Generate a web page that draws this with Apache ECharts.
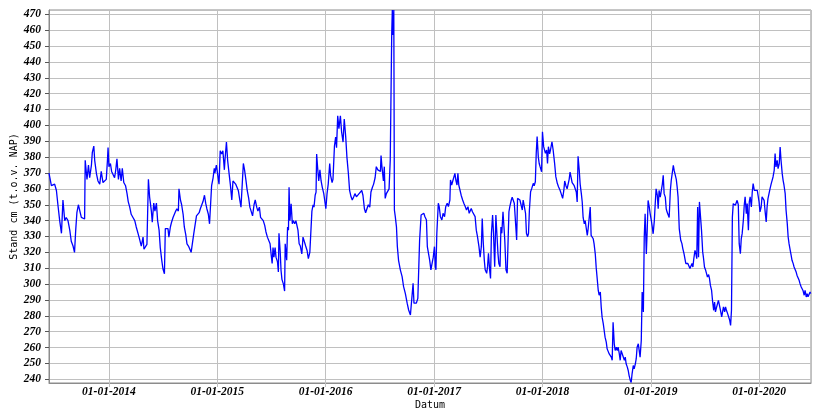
<!DOCTYPE html>
<html>
<head>
<meta charset="utf-8">
<script src="https://cdn.jsdelivr.net/npm/echarts@6/dist/echarts.min.js"></script>
<style>
html,body{margin:0;padding:0;background:#fff;}
#chart{width:825px;height:414px;}
</style>
</head>
<body>
<div id="chart"></div>
<script>
// Water level (Stand cm t.o.v. NAP) — dates (MM-DD) and values per year
const d2013 = ['06-13','06-21','06-26','07-02','07-08','07-13','07-19','07-25','07-30','08-05','08-10','08-16','08-22','08-27','09-02','09-07','09-11','09-15','09-20','09-24','09-30','10-06','10-11','10-13','10-19','10-24','10-28','11-03','11-06','11-11','11-14','11-20','11-25','12-01','12-06','12-12','12-18','12-23','12-27','12-29'];
const v2013 = [370,362,361,363,359,350,340,332,353,340,342,340,334,327,324,320,334,345,350,349,342,341,341,378,366,375,367,375,383,387,378,369.5,365,363,371,364,364,366,378,386];

const d2014 = ['01-01','01-06','01-10','01-15','01-20','01-24','01-28','02-02','02-06','02-11','02-15','02-20','02-26','03-03','03-07','03-12','03-17','03-23','03-29','04-03','04-09','04-14','04-20','04-26','04-29','05-05','05-09','05-14','05-18','05-24','05-27','06-01','06-05','06-10','06-14','06-19','06-23','06-28','07-02','07-07','07-10','07-15','07-19','07-22','07-27','07-31','08-05','08-09','08-14','08-18','08-23','08-25','08-30','09-03','09-08','09-12','09-17','09-21','09-26','09-30','10-05','10-09','10-14','10-18','10-23','10-27','11-01','11-05','11-10','11-14','11-19','11-23','11-27','12-02','12-06','12-11','12-13','12-18','12-22','12-24','12-29'];
const v2014 = [374,376,371,372,367,372,379,366,373,365,373,364,362,357,352,348.5,344,342,340,336,332,328.5,324,329.6,322,322,325,366,355,346,339,351,346,351,340,334,323,315,309.7,306.5,335,335,335,329.6,336,339,342,341,346,347.5,346,360,353,350,344,336,331,325.4,324,325,320,319,332,333,343,344,345,347.5,347,352,356,351,347.5,344,338,338,362,367,373,370,375];

const d2015 = ['01-04','01-07','01-11','01-16','01-20','01-25','01-27','02-01','02-05','02-10','02-14','02-19','02-23','02-28','03-04','03-09','03-13','03-18','03-22','03-27','03-30','04-03','04-08','04-12','04-17','04-21','04-26','04-30','05-05','05-09','05-14','05-18','05-23','05-27','06-01','06-05','06-10','06-14','06-19','06-23','06-28','07-02','07-05','07-08','07-11','07-15','07-18','07-23','07-26','07-28','08-01','08-04','08-07','08-12','08-16','08-18','08-23','08-26','08-29','08-31','09-03','09-07','09-11','09-14','09-19','09-23','09-27','09-30','10-04','10-08','10-13','10-17','10-22','10-26','10-31','11-04','11-09','11-13','11-16','11-20','11-23','11-27','11-30','12-02','12-05','12-09','12-13','12-17','12-21','12-26','12-29'];
const v2015 = [375,363,384,382,384,372,378,389.5,378,369.5,363,353,365,366,363,364,359,353,348.5,347.5,376,372,365,359,354,348.5,347.5,343,350,353,348.5,346,348.5,342,343,340,337,333,329.6,330.7,325.4,318,313,323,317,323,317,314,307.6,332,321,308.6,303,300,295.6,325.4,315,336,334,361,340,350.6,338,340,338,340,339,334,325.4,324,319,329.6,328.6,324,321,316,320,320,346,350,348.5,356,358,382,374,365,372,365,361,357,353];

const d2016 = ['01-02','01-06','01-10','01-15','01-18','01-23','01-26','01-31','02-04','02-07','02-11','02-15','02-20','02-24','02-29','03-04','03-09','03-13','03-18','03-22','03-27','03-31','04-05','04-09','04-14','04-18','04-23','04-27','05-02','05-06','05-11','05-15','05-20','05-24','05-29','06-02','06-07','06-11','06-16','06-20','06-25','06-29','07-04','07-06','07-09','07-14','07-17','07-20','07-24','07-28','08-02','08-06','08-11','08-13','08-15','08-18','08-20','08-23','08-27','08-30','09-03','09-09','09-15','09-20','09-26','10-02','10-07','10-13','10-17','10-22','10-25','10-29','11-02','11-07','11-10','11-13','11-18','11-22','11-27','12-01','12-06','12-09','12-12','12-17','12-21','12-25','12-29'];
const v2016 = [347.5,357,363,376,368.5,364,366,387,392.6,386,406,398,406,396,389.5,404,392.6,380,369.5,359,355,353,355,357,355,356,357,358,359,356,347.5,345,346,350,348.5,358,361,363,367,374,372,371,371,381,374,365,374,354,357,358,360,378,458,472.7,457,472.7,346.7,342.5,336,323.6,315,309,304.7,298.4,294,288,283.7,280.5,279.5,300.5,288,289,288,291,290,327.8,343.5,344.6,344.6,342.5,340.4,323.6,323.6,315,309,313,317];

const d2017 = ['01-02','01-05','01-07','01-10','01-15','01-18','01-22','01-27','01-31','02-05','02-09','02-14','02-18','02-23','02-25','03-01','03-04','03-08','03-12','03-15','03-19','03-22','03-25','03-29','04-02','04-07','04-11','04-16','04-20','04-25','04-29','05-02','05-06','05-10','05-15','05-19','05-23','05-27','06-01','06-05','06-09','06-12','06-15','06-19','06-22','06-27','06-30','07-03','07-07','07-10','07-13','07-17','07-20','07-24','07-28','07-31','08-04','08-07','08-11','08-14','08-17','08-21','08-24','08-27','08-31','09-04','09-08','09-10','09-13','09-18','09-21','09-24','09-28','10-01','10-06','10-09','10-12','10-17','10-20','10-25','10-28','11-02','11-05','11-08','11-12','11-15','11-18','11-22','11-26','12-01','12-04','12-08','12-11','12-14','12-18','12-21','12-24','12-29'];
const v2017 = [323.6,311,309,332,351,348.8,342.5,340.4,344.6,342.5,348.8,351,348.8,353,365.6,362.4,364.5,363.5,369.8,365.6,362.4,369.8,362.4,359.3,356,353,351,348.8,346.7,348.8,344.6,343.5,347.7,345.6,344.6,342.5,334,329.9,323.6,317,323.6,341.4,327.8,315,309,306.8,311,319.4,309,303.6,332,343.5,332,311,343.5,343.5,319.4,313,311,336,332,345.6,344.6,327.8,309,306.8,306.8,345.6,348.8,353,354.7,354,351,342.5,327.8,354,353,353,354,346.7,353,352,344.6,332,329.9,332,346.7,358.2,360.3,363.5,362,364.5,382.4,393,380,376,374,370.8];

const d2018 = ['01-01','01-05','01-08','01-11','01-15','01-18','01-21','01-25','01-28','02-02','02-06','02-11','02-15','02-20','02-24','03-01','03-05','03-10','03-14','03-17','03-21','03-25','03-29','04-01','04-04','04-08','04-11','04-15','04-18','04-21','04-25','04-28','05-01','05-05','05-08','05-12','05-15','05-18','05-22','05-25','05-28','06-01','06-04','06-08','06-11','06-14','06-18','06-21','06-24','06-28','07-01','07-05','07-08','07-11','07-15','07-18','07-21','07-25','07-28','07-31','08-04','08-07','08-11','08-14','08-17','08-21','08-24','08-27','08-31','09-03','09-07','09-10','09-13','09-17','09-20','09-23','09-27','09-30','10-04','10-07','10-10','10-14','10-17','10-20','10-24','10-27','10-30','11-03','11-06','11-10','11-13','11-16','11-20','11-23','11-26','11-30','12-03','12-07','12-10','12-13','12-17','12-20','12-23','12-27','12-30'];
const v2018 = [396,386.6,386,382.4,384.5,376,386.6,382,384.5,389.7,384.5,376,367.7,363.5,361.4,359.3,357,354,359,365,362,360,359,366,370.6,369.5,364,363,362,363,358,351.7,380.5,371.6,363,357,351.7,342,338,340,336,330.7,335,334,348.5,330.7,331.7,328.6,325.4,319,310.7,302.3,296,293,295,285.5,279.2,275,270.8,266.6,263.4,259.2,258.2,256,256,254,252,276,262.4,258.2,260.3,258.2,260.3,256,252,258.2,256,255,252,254,249.8,247.7,245.6,242.4,239.3,238,243.5,248.7,246.6,249.8,253,260.3,262.4,258.2,254,264.5,295,282.4,329.6,344.3,319,333.8,352.7,348.5,344.3];

const d2019 = ['01-03','01-06','01-09','01-13','01-16','01-19','01-23','01-26','01-29','02-02','02-05','02-09','02-12','02-15','02-19','02-22','02-25','03-01','03-04','03-08','03-11','03-14','03-18','03-21','03-24','03-28','03-31','04-03','04-07','04-09','04-12','04-16','04-19','04-23','04-26','04-29','05-03','05-06','05-09','05-13','05-16','05-20','05-23','05-26','05-30','06-02','06-05','06-08','06-11','06-14','06-18','06-21','06-25','06-28','07-01','07-05','07-08','07-11','07-15','07-18','07-21','07-25','07-28','08-01','08-04','08-07','08-11','08-14','08-17','08-21','08-24','08-28','08-31','09-03','09-07','09-10','09-13','09-17','09-20','09-24','09-27','09-30','10-03','10-06','10-09','10-13','10-16','10-19','10-23','10-26','10-30','11-02','11-05','11-09','11-12','11-15','11-19','11-22','11-26','11-29','12-02','12-06','12-09','12-12','12-16','12-19','12-22','12-26','12-29'];
const v2019 = [340,336,331.7,340,350.6,360,356,347.5,359,354.8,355,363,368.5,357,354.8,347.5,345.4,345,342,359,365.3,366,374.8,371.5,370.6,366,361,354.8,335,334,327.6,325.5,322.4,319.2,318,313,311.8,313,314,309.8,311,313,310.8,316,321.3,319.2,316,348.6,317,351.8,352.8,334,320.3,316,310.8,308.7,306.6,304.5,306,303.4,299.2,296,289.8,283.5,288.7,282.5,285.6,287.7,289.8,289,283.5,279.3,282.5,285.6,282.5,285.6,283.5,281.4,282.5,277.2,274,283.5,342.3,350.7,351.8,349.7,348.6,352.8,350,325.5,319.2,328.7,331.8,340.2,349.7,355,344.4,350.7,334,351.8,355,348.6,358,363.3,359.1,359,360.2,359,358];

const d2020 = ['01-01','01-04','01-08','01-11','01-15','01-18','01-21','01-25','01-28','01-31','02-04','02-07','02-11','02-14','02-17','02-21','02-24','02-27','03-02','03-05','03-09','03-12','03-15','03-19','03-22','03-25','03-29','04-01','04-05','04-08','04-11','04-15','04-18','04-21','04-25','04-28','05-01','05-05','05-08','05-12','05-15','05-18','05-22','05-25','05-28','06-01','06-04','06-08','06-11','06-14','06-18','06-21','06-23'];
const v2020 = [351.8,345.5,348.6,355,356,352.8,346.5,339.2,348.6,353.9,355,360.2,363.3,365.4,367.5,371.7,382.2,373.8,378,372.8,376,386.4,378,369.6,365.4,362.3,357,346.5,338.1,329.7,325.5,321.3,318.2,315,312.9,310.8,309.8,307.6,305.5,304.5,302.4,300.3,298.2,299,296,293,296,291.9,294,292,293,295,294];

const axisStart = '2013-06-13';
const axisEnd = '2020-06-24';
const yMin = 237.7;
const yMax = 472.7;

const years = [
  [2013, d2013, v2013], [2014, d2014, v2014], [2015, d2015, v2015], [2016, d2016, v2016],
  [2017, d2017, v2017], [2018, d2018, v2018], [2019, d2019, v2019], [2020, d2020, v2020]
];
function ts(s) { const p = s.split('-').map(Number); return Date.UTC(p[0], p[1] - 1, p[2]); }
const seriesData = [];
years.forEach(([y, ds, vs]) => { ds.forEach((d, i) => seriesData.push([ts(y + '-' + d), vs[i]])); });

const labelFont = { fontFamily: 'Liberation Serif', fontStyle: 'italic', fontWeight: 'bold', fontSize: 11.5, color: '#000' };
const titleFont = { fontFamily: 'DejaVu Sans Mono', fontSize: 10, color: '#000' };

const chart = echarts.init(document.getElementById('chart'), null, { renderer: 'canvas' });
chart.setOption({
  animation: false,
  useUTC: true,
  backgroundColor: '#ffffff',
  grid: { left: 49, top: 10, width: 762, height: 373, containLabel: false, outerBoundsMode: 'none', show: true, borderColor: '#8c8c8c', borderWidth: 1, backgroundColor: '#ffffff' },
  xAxis: {
    type: 'time',
    min: ts(axisStart), max: ts(axisEnd),
    splitNumber: 7,
    minInterval: 300 * 86400000,
    name: 'Datum', nameLocation: 'middle', nameGap: 17, nameMoveOverlap: false, nameTextStyle: titleFont,
    axisLine: { lineStyle: { color: '#8c8c8c' } },
    axisTick: { show: true, length: 4, lineStyle: { color: '#c0c0c0' } },
    axisLabel: Object.assign({ formatter: '{dd}-{MM}-{yyyy}', margin: 3, showMinLabel: false, showMaxLabel: false, hideOverlap: false }, labelFont),
    splitLine: { show: true, lineStyle: { color: '#c0c0c0', width: 1 } }
  },
  yAxis: {
    type: 'value',
    min: yMin, max: yMax,
    splitNumber: 23, minInterval: 10, maxInterval: 10,
    name: 'Stand cm (t.o.v. NAP)', nameLocation: 'middle', nameGap: 30, nameRotate: 90, nameMoveOverlap: false, nameTextStyle: titleFont,
    axisLine: { show: true, lineStyle: { color: '#8c8c8c' } },
    axisTick: { show: true, length: 4, lineStyle: { color: '#555' } },
    axisLabel: Object.assign({ margin: 8, showMinLabel: false, showMaxLabel: false, formatter: v => String(Math.round(v)) }, labelFont),
    splitLine: { show: true, lineStyle: { color: '#c0c0c0', width: 1 } }
  },
  series: [{
    type: 'line',
    data: seriesData,
    showSymbol: false,
    symbol: 'none',
    clip: true,
    lineStyle: { color: '#0000ff', width: 1.3 },
    itemStyle: { color: '#0000ff' }
  }]
});
</script>
</body>
</html>
